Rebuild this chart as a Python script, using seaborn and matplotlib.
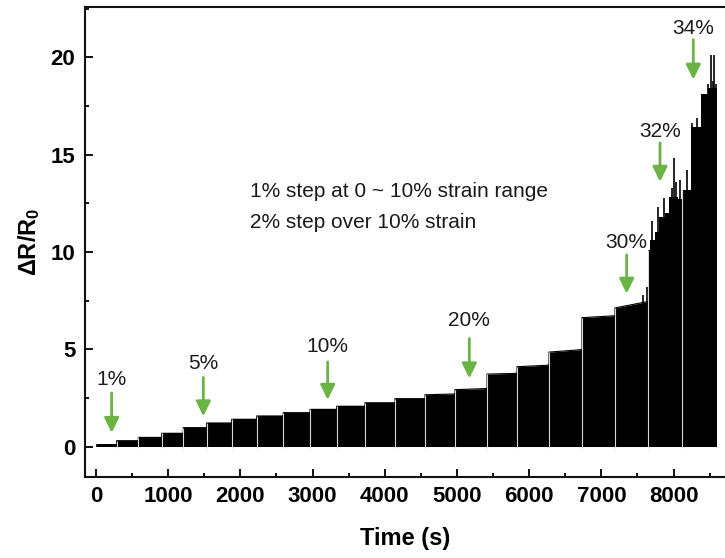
import numpy as np
import pandas as pd
import matplotlib
matplotlib.use("Agg")
import matplotlib.pyplot as plt
import seaborn as sns
from matplotlib.ticker import MultipleLocator

# step table (strain %, start/end time in s, plateau peak at start/end)
step_strain = [1, 2, 3, 4, 5, 6, 7, 8, 9, 10, 12, 14, 16, 18, 20, 22, 24, 26, 28, 30]
step_start = [10, 287, 586, 910, 1209, 1533, 1879, 2226, 2594, 2964,
              3334, 3726, 4141, 4557, 4972, 5416, 5831, 6274, 6731, 7188]
step_end = step_start[1:] + [7645]
peak_start = [0.10, 0.30, 0.47, 0.68, 0.97, 1.21, 1.40, 1.57, 1.74, 1.91,
              2.07, 2.25, 2.46, 2.66, 2.92, 3.72, 4.10, 4.85, 6.62, 7.12]
peak_end = [0.10, 0.30, 0.47, 0.68, 0.97, 1.21, 1.40, 1.57, 1.74, 1.91,
            2.07, 2.25, 2.46, 2.70, 2.98, 3.76, 4.18, 4.98, 6.72, 7.45]

# the last two steps (32 %, 34 %) are ragged
rough_time = [7645, 7680, 7740, 7800, 7880, 7930, 8060, 8120,
              8125, 8240, 8380, 8470, 8597]
rough_peak = [10.1, 10.6, 11.0, 11.8, 12.0, 12.8, 12.7, 12.7,
              13.2, 16.4, 18.1, 18.4, 18.4]

# single tall cycles
spike_time = [7580, 7625, 7696, 7789, 7867, 7974, 8006, 8035, 8089,
              8190, 8250, 8330, 8470, 8518, 8541, 8564, 8590]
spike_height = [7.8, 8.2, 11.6, 12.3, 12.75, 13.3, 14.8, 13.6, 13.7,
                14.2, 16.6, 16.9, 18.6, 20.1, 18.8, 20.1, 18.6]

# arrow annotations: label, time, label y, arrow start y, arrow tip y
arrow_label = ["1%", "5%", "10%", "20%", "30%", "32%", "34%"]
arrow_time = [217, 1487, 3209, 5171, 7350, 7812, 8273]
arrow_text_y = [3.42, 4.24, 5.13, 6.47, 10.5, 16.18, 21.5]
arrow_from_y = [2.75, 3.55, 4.35, 5.55, 9.85, 15.6, 20.9]
arrow_to_y = [0.7, 1.55, 2.4, 3.5, 7.85, 13.6, 18.85]

green = "#6ab344"

sns.set_theme(style="ticks")
plt.rcParams["font.family"] = ["Liberation Sans Narrow", "Liberation Sans", "DejaVu Sans"]
plt.rcParams["mathtext.fontset"] = "custom"
plt.rcParams["mathtext.rm"] = "Liberation Sans:bold"
plt.rcParams["mathtext.it"] = "Liberation Sans:bold"
plt.rcParams["mathtext.bf"] = "Liberation Sans:bold"

fig = plt.figure(figsize=(7.25, 5.58), dpi=100)
ax = fig.add_axes([85 / 725, 1 - 476.5 / 558, 640 / 725, 469.5 / 558])

# envelope of the signal
env = []
for t0, t1, p0, p1 in zip(step_start, step_end, peak_start, peak_end):
    env.append((t0, 0.0))
    env.append((t0, p0))
    env.append((t1, p1))
    env.append((t1, 0.0))
rough = pd.DataFrame({"time": rough_time, "peak": rough_peak})
env_df = pd.DataFrame(env, columns=["time", "peak"])

for t0, t1, p0, p1 in zip(step_start, step_end, peak_start, peak_end):
    ax.fill_between([t0, t1], 0, [p0, p1], color="black", lw=0)
ax.fill_between(rough["time"], 0, rough["peak"], step="post", color="black", lw=0)
sns.lineplot(data=env_df, x="time", y="peak", ax=ax, color="black", lw=0.8,
             estimator=None, sort=False)
ax.vlines(spike_time, 0, spike_height, color="black", lw=1.2)

# valleys between steps
ax.vlines(step_start[1:] + [7645, 8122], -0.1, [p for p in peak_start[1:]] + [10.1, 13.2],
          color="#d8d8d8", lw=0.8)

for lab, t, ty, y0, y1 in zip(arrow_label, arrow_time, arrow_text_y, arrow_from_y, arrow_to_y):
    ax.annotate("", xy=(t, y1), xytext=(t, y0),
                arrowprops=dict(arrowstyle="-|>,head_length=0.45,head_width=0.22",
                                color=green, lw=2, mutation_scale=20, shrinkA=0, shrinkB=0))
    ax.text(t, ty, lab, ha="center", va="center", fontsize=15,
            family=["Liberation Sans", "DejaVu Sans"], color="#1a1a1a")

ax.text(2133, 12.84, "1% step at 0 ~ 10% strain range", fontsize=15,
        family=["Liberation Sans", "DejaVu Sans"], color="#1a1a1a", va="baseline")
ax.text(2133, 11.21, "2% step over 10% strain", fontsize=15,
        family=["Liberation Sans", "DejaVu Sans"], color="#1a1a1a", va="baseline")

ax.set_xlim(-152, 8712)
ax.set_ylim(-1.54, 22.58)
ax.set_xticks(range(0, 9000, 1000))
ax.set_yticks([0, 5, 10, 15, 20])
ax.xaxis.set_minor_locator(MultipleLocator(500))
ax.yaxis.set_minor_locator(MultipleLocator(2.5))
ax.tick_params(which="both", direction="in", width=1.4, pad=7, color="#111111",
               labelsize=16, labelcolor="black", top=False, right=False)
ax.tick_params(which="major", length=5.5)
ax.tick_params(which="minor", length=3.2)
for lab in ax.get_xticklabels() + ax.get_yticklabels():
    lab.set_fontweight("bold")

for s in ["left", "bottom", "top"]:
    ax.spines[s].set_linewidth(1.5)
    ax.spines[s].set_color("#111111")
ax.spines["right"].set_visible(False)

ax.set_xlabel("Time (s)", fontsize=17, fontweight="bold", labelpad=14, color="black")
ax.set_ylabel("ΔR/R$_0$", fontsize=17, fontweight="bold", labelpad=6, color="black")

fig.savefig("out.png", dpi=100)
